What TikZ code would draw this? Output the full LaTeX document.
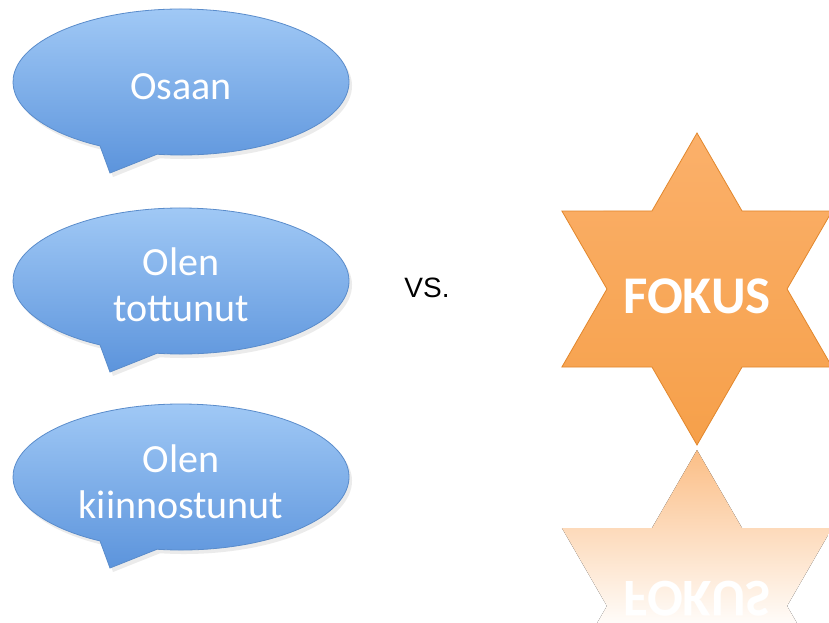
\documentclass[tikz,border=0pt]{standalone}
\usepackage{fontspec}
\setmainfont{Carlito}
\newfontfamily\arialfont{Liberation Sans}
\definecolor{bubtop}{HTML}{A2CAF6}
\definecolor{bubbot}{HTML}{5C94DC}
\definecolor{bubline}{HTML}{5A8CCB}
\definecolor{startop}{HTML}{FBB06A}
\definecolor{starbot}{HTML}{F6A04A}
\definecolor{starline}{HTML}{E2872C}
\definecolor{refltop}{HTML}{FBBE86}
\tikzset{
  bubble/.style={top color=bubtop, bottom color=bubbot, draw=bubline, line width=0.8pt},
  bubshadow/.style={fill=black, opacity=0.08},
  bubtext/.style={text=white, align=center, font=\fontsize{40}{46}\selectfont, inner sep=0pt},
  starshape/.style={top color=startop, bottom color=starbot, draw=starline, line width=0.8pt},
  startext/.style={text=white, font=\bfseries\fontsize{53}{60}\selectfont, inner sep=0pt},
  vstext/.style={font=\arialfont\fontsize{28}{32}\selectfont, inner sep=0pt}
}
\newcommand\speechbubble[1]{%
  \begin{scope}[shift={#1}]
    \path[bubshadow] (3,4) ++(98.2:168 and 73) arc[start angle=98.2, end angle=-241.2, x radius=168, y radius=73] -- (-68,95) -- cycle;
    \path[bubble] (98.2:168 and 73) arc[start angle=98.2, end angle=-241.2, x radius=168, y radius=73] -- (-71,91) -- cycle;
  \end{scope}}
\newcommand\hexstar{(90:156) -- (120:90.07) -- (150:156) -- (180:90.07) -- (210:156) -- (240:90.07) -- (270:156) -- (300:90.07) -- (330:156) -- (0:90.07) -- (30:156) -- (60:90.07) -- cycle}
\begin{document}
\begin{tikzpicture}[x=1pt,y=-1pt]
  \useasboundingbox (0,0) rectangle (829,623);
  \clip (0,0) rectangle (829,623);
  \fill[white] (0,0) rectangle (829,623);
  % bubbles
  \speechbubble{(181,82)}
  \speechbubble{(181,281)}
  \speechbubble{(181,477)}
  \node[bubtext] (b1) at (181,87) {Osaan};
  \node[bubtext] (b2) at (181,285) {Olen\\tottunut};
  \node[bubtext] (b3) at (181,482) {Olen\\kiinnostunut};
  % vs
  \node[vstext] (vs) at (427,288) {VS.};
  % reflection
  \begin{scope}
    \clip[shift={(697,606)}] \hexstar;
    \fill[top color=refltop, bottom color=white] (540,450) rectangle (829,632);
  \end{scope}
  \node[startext, yscale=-1, text=white] (fokusrefl) at (697,599) {FOKUS};
  % star
  \path[starshape, shift={(697,289)}] \hexstar;
  \node[startext] (fokus) at (697,296) {FOKUS};
\end{tikzpicture}
\end{document}
